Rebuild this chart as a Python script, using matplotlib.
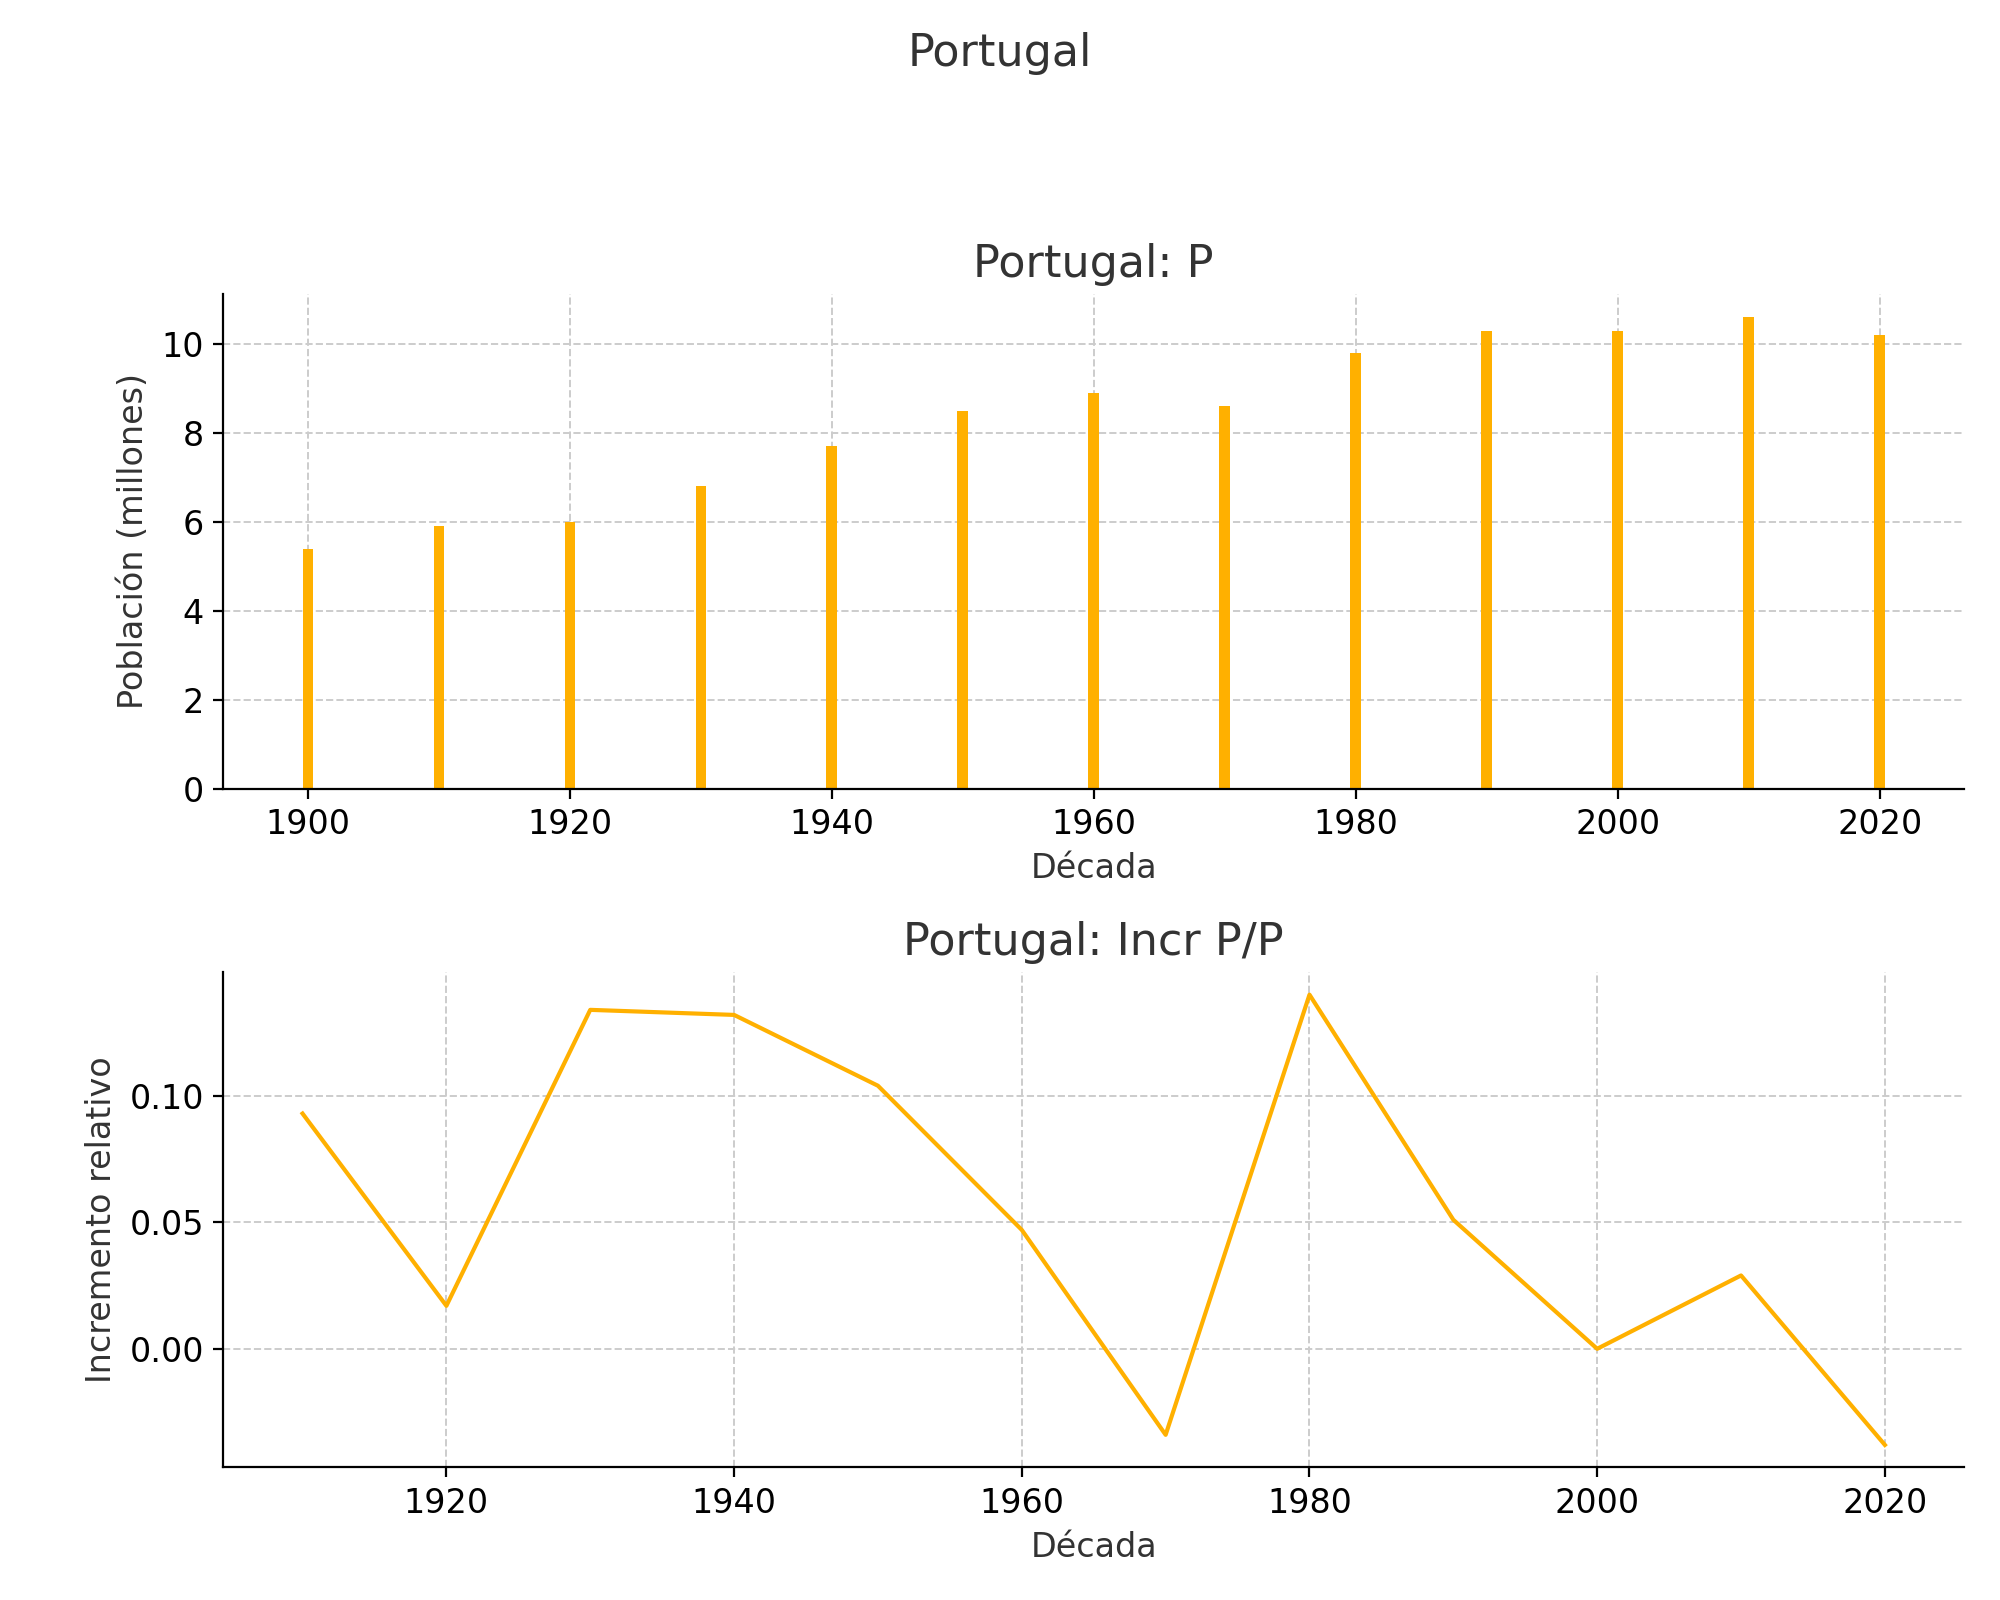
import matplotlib
matplotlib.use("Agg")
import matplotlib.pyplot as plt

decades = [1900, 1910, 1920, 1930, 1940, 1950, 1960, 1970, 1980, 1990, 2000, 2010, 2020]
population = [5.4, 5.9, 6.0, 6.8, 7.7, 8.5, 8.9, 8.6, 9.8, 10.3, 10.3, 10.6, 10.2]
incr_decades = decades[1:]
incr = [0.093, 0.017, 0.134, 0.132, 0.104, 0.047, -0.034, 0.140, 0.051, 0.000, 0.029, -0.038]

color = "#FFB000"
txt = "#333333"
plt.rcParams.update({"font.size": 12, "text.color": txt, "axes.labelcolor": txt})

fig, (ax1, ax2) = plt.subplots(2, 1, figsize=(10, 8), dpi=200)
fig.suptitle("Portugal", fontsize=16, color=txt)

ax1.bar(decades, population, width=0.8, color=color)
ax1.set_title("Portugal: P", fontsize=16, color=txt)
ax1.set_xlabel("Década")
ax1.set_ylabel("Población (millones)")

ax2.plot(incr_decades, incr, color=color, linewidth=1.5)
ax2.set_title("Portugal: Incr P/P", fontsize=16, color=txt)
ax2.set_xlabel("Década")
ax2.set_ylabel("Incremento relativo")

for ax in (ax1, ax2):
    ax.grid(True, linestyle="--", color="#cccccc", linewidth=0.7)
    ax.set_axisbelow(True)
    ax.spines["top"].set_visible(False)
    ax.spines["right"].set_visible(False)

fig.tight_layout(rect=[0, 0, 1, 0.92])
fig.savefig("out.png")
